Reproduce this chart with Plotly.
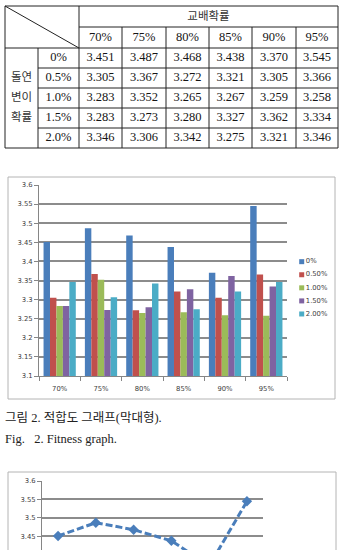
import plotly.graph_objects as go

# ---------------- data ----------------
crossover = ["70%", "75%", "80%", "85%", "90%", "95%"]
mutation = ["0%", "0.5%", "1.0%", "1.5%", "2.0%"]
legend_labels = ["0%", "0.50%", "1.00%", "1.50%", "2.00%"]
fit_m00 = [3.451, 3.487, 3.468, 3.438, 3.370, 3.545]
fit_m05 = [3.305, 3.367, 3.272, 3.321, 3.305, 3.366]
fit_m10 = [3.283, 3.352, 3.265, 3.267, 3.259, 3.258]
fit_m15 = [3.283, 3.273, 3.280, 3.327, 3.362, 3.334]
fit_m20 = [3.346, 3.306, 3.342, 3.275, 3.321, 3.346]
series = [fit_m00, fit_m05, fit_m10, fit_m15, fit_m20]
y_tick_vals = [3.1, 3.15, 3.2, 3.25, 3.3, 3.35, 3.4, 3.45, 3.5, 3.55, 3.6]
y_tick_text = ["3.1", "3.15", "3.2", "3.25", "3.3", "3.35", "3.4", "3.45", "3.5", "3.55", "3.6"]
table_title = "교배확률"
side_title = ["돌연", "변이", "확률"]
caption_ko = "그림 2. 적합도 그래프(막대형)."
caption_en = "Fig.   2. Fitness graph."

# ---------------- styles ----------------
W, H = 340, 550
colors = ["#4a7ebb", "#c0504d", "#9bbb59", "#7f63a1", "#4bacc6"]
tick_font = dict(family="DejaVu Sans", size=6.8, color="#404040")
grid_col = "#8c8c8c"
axis_col = "#868686"
serif = "Liberation Serif, Noto Sans CJK KR"
ko_font = "Noto Sans CJK KR"


def px(x):
    return x / W


def py(y):
    return 1 - y / H


fig = go.Figure()

# ---------------- bar chart ----------------
for lab, vals, col in zip(legend_labels, series, colors):
    fig.add_trace(go.Bar(x=crossover, y=vals, name=lab, marker=dict(color=col, line=dict(width=0)),
                         xaxis="x", yaxis="y", showlegend=False))

# manual legend (scatter on its own axes)
fig.add_trace(go.Scatter(x=[3.7] * len(legend_labels), y=legend_labels, mode="markers+text",
                         marker=dict(symbol="square", size=5, color=colors),
                         text=legend_labels, textposition="middle right",
                         textfont=dict(family="DejaVu Sans", size=6.8, color="#404040"),
                         xaxis="x4", yaxis="y4", showlegend=False, cliponaxis=False))

# ---------------- line chart ----------------
fig.add_trace(go.Scatter(x=crossover, y=fit_m00, mode="lines+markers",
                         line=dict(color="#4a7ebb", width=3, dash="7px,3px"),
                         marker=dict(symbol="diamond", size=8, color="#4a7ebb"),
                         xaxis="x2", yaxis="y2", showlegend=False))

# ---------------- table ----------------
col_edges = [5, 38, 79, 122, 166, 209, 252, 296, 338]
row_edges = [6, 27, 48, 68, 88, 108, 128, 148]
data_cx = [(col_edges[i] + col_edges[i + 1]) / 2 for i in range(2, 8)]
data_cy = [(row_edges[i] + row_edges[i + 1]) / 2 for i in range(2, 7)]
mut_cx = (col_edges[1] + col_edges[2]) / 2
side_cx = (col_edges[0] + col_edges[1]) / 2

num_x, num_y, num_t = [], [], []
for r, vals_row in enumerate(series):
    for c, v in enumerate(vals_row):
        num_x.append(data_cx[c])
        num_y.append(data_cy[r])
        num_t.append(f"{v:.3f}")
# header percentages
num_x += data_cx
num_y += [(row_edges[1] + row_edges[2]) / 2] * len(crossover)
num_t += crossover
# mutation labels
num_x += [mut_cx] * len(mutation)
num_y += data_cy
num_t += mutation
fig.add_trace(go.Scatter(x=num_x, y=num_y, text=num_t, mode="text",
                         textfont=dict(family=serif, size=12.5, color="#151515"),
                         xaxis="x3", yaxis="y3", showlegend=False, cliponaxis=False))
ko_x = [(col_edges[2] + col_edges[8]) / 2] + [side_cx] * 3
ko_y = [(row_edges[0] + row_edges[1]) / 2 + 0.5] + data_cy[1:4]
fig.add_trace(go.Scatter(x=ko_x, y=ko_y, text=[table_title] + side_title, mode="text",
                         textfont=dict(family=ko_font, size=11.5, color="#333333"),
                         xaxis="x3", yaxis="y3", showlegend=False, cliponaxis=False))

shapes = []
lc = dict(color="#222222", width=1)


def tline(x0, y0, x1, y1):
    shapes.append(dict(type="line", xref="x3", yref="y3", x0=x0, y0=y0, x1=x1, y1=y1, line=lc))


tline(col_edges[0], row_edges[0], col_edges[8], row_edges[0])
tline(col_edges[0], row_edges[7], col_edges[8], row_edges[7])
tline(col_edges[0], row_edges[0], col_edges[0], row_edges[7])
tline(col_edges[8], row_edges[0], col_edges[8], row_edges[7])
tline(col_edges[2], row_edges[1], col_edges[8], row_edges[1])
tline(col_edges[0], row_edges[2], col_edges[8], row_edges[2])
for y in row_edges[3:7]:
    tline(col_edges[1], y, col_edges[8], y)
tline(col_edges[1], row_edges[2], col_edges[1], row_edges[7])
tline(col_edges[2], row_edges[0], col_edges[2], row_edges[7])
for x in col_edges[3:8]:
    tline(x, row_edges[1], x, row_edges[7])
tline(col_edges[0], row_edges[0], col_edges[2], row_edges[2])

# chart frames
box = dict(color="#b4b4b4", width=1)
shapes.append(dict(type="rect", xref="paper", yref="paper", x0=px(8), x1=px(335), y0=py(399), y1=py(177), line=box))
shapes.append(dict(type="rect", xref="paper", yref="paper", x0=px(8), x1=px(336), y0=-0.1, y1=py(472), line=box))

annotations = [
    dict(text=caption_ko, xref="paper", yref="paper", x=px(3), y=py(418), xanchor="left", yanchor="middle",
         showarrow=False, font=dict(family=serif, size=12.5, color="#222222")),
    dict(text=caption_en, xref="paper", yref="paper", x=px(3), y=py(439), xanchor="left", yanchor="middle",
         showarrow=False, font=dict(family=serif, size=12.5, color="#222222")),
]

yaxis_common = dict(tickvals=y_tick_vals, ticktext=y_tick_text, showgrid=True, gridcolor=grid_col, gridwidth=1.5,
                    showline=True, linecolor=axis_col, linewidth=1, ticks="outside", ticklen=4, tickcolor=axis_col,
                    tickfont=tick_font, zeroline=False, fixedrange=True)

fig.update_layout(
    width=W, height=H, margin=dict(l=0, r=0, t=0, b=0), template="none",
    paper_bgcolor="white", plot_bgcolor="rgba(0,0,0,0)",
    barmode="group", bargap=0.22, bargroupgap=0,
    xaxis=dict(domain=[px(39), px(287)], anchor="y", type="category", showline=True, linecolor=axis_col,
               linewidth=1, ticks="outside", tickson="boundaries", ticklen=4, tickcolor=axis_col,
               tickfont=tick_font, showgrid=False, zeroline=False, ticklabelstandoff=6),
    yaxis=dict(domain=[py(376), py(185)], anchor="x", range=[3.1, 3.6], **yaxis_common),
    xaxis2=dict(domain=[px(42), px(263)], anchor="y2", type="category", showticklabels=False, showline=False,
                showgrid=False, zeroline=False, ticks=""),
    yaxis2=dict(domain=[0, py(481)], anchor="x2", range=[3.6 - 0.05 * 69 / 18.45, 3.6], **yaxis_common),
    xaxis3=dict(domain=[0, 1], anchor="y3", range=[0, W], visible=False),
    yaxis3=dict(domain=[py(155), 1], anchor="x3", range=[155, 0], visible=False),
    xaxis4=dict(domain=[px(298), px(338)], anchor="y4", range=[0, 40], visible=False),
    yaxis4=dict(domain=[py(320), py(255)], anchor="x4", range=[4.46, -0.51], visible=False, type="category"),
    shapes=shapes, annotations=annotations,
)

fig.write_html("out.html")
